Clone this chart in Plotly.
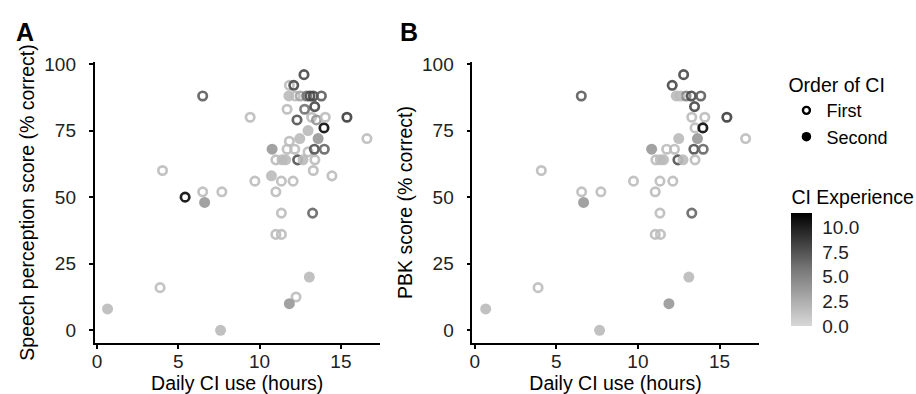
import plotly.graph_objects as go

# ---------------- Data ----------------
# Panel A: speech perception score
a_hours = [0.65, 7.6, 3.88, 4.03, 5.42, 6.5, 6.5, 6.62, 7.68, 9.42,
           9.71, 10.77, 10.73, 11.0, 11.0, 11.38, 11.6, 12.34, 12.67, 13.4,
           12.98, 11.34, 12.06, 13.3, 14.45, 11.34, 13.26, 11.0, 11.34, 13.06,
           11.83, 12.24, 11.69, 12.16, 13.37, 13.98, 11.83, 12.47, 13.6, 16.6,
           12.98, 13.96, 12.3, 13.2, 13.5, 14.04, 15.37, 11.69, 12.77, 13.39,
           11.83, 12.1, 12.73, 11.8, 12.2, 12.5, 12.9, 13.1, 13.3, 13.8]
a_score = [8, 0, 16, 60, 50, 88, 52, 48, 52, 80,
           56, 68, 58, 52, 64, 64, 64, 64, 64, 64,
           67, 56, 56, 60, 58, 44, 44, 36, 36, 20,
           10, 12.5, 68, 68, 68, 68, 71, 72, 72, 72,
           75, 76, 79, 80, 79, 80, 80, 83, 83, 84,
           92, 92, 96, 88, 88, 88, 88, 88, 88, 88]
a_order = ["Second", "Second", "First", "First", "First", "First", "First", "Second", "First", "First",
           "First", "Second", "Second", "First", "First", "Second", "Second", "First", "Second", "First",
           "First", "First", "First", "First", "First", "First", "First", "First", "First", "Second",
           "Second", "First", "First", "First", "First", "First", "First", "Second", "Second", "First",
           "Second", "First", "First", "First", "First", "First", "First", "First", "First", "First",
           "First", "First", "First", "Second", "First", "First", "First", "First", "First", "First"]
a_exp = [1.8, 1.8, 1.6, 1.6, 11.0, 7.0, 1.6, 3.8, 1.6, 1.6,
         1.6, 3.8, 1.8, 1.6, 1.6, 1.8, 1.8, 7.5, 1.8, 1.6,
         1.6, 1.6, 1.6, 1.6, 1.6, 1.6, 6.5, 1.6, 1.6, 1.8,
         3.8, 1.6, 1.6, 1.6, 7.5, 6.5, 1.6, 1.8, 3.8, 1.6,
         1.8, 11.0, 7.5, 1.6, 4.0, 1.6, 8.5, 1.6, 6.0, 8.0,
         1.6, 8.0, 8.0, 1.8, 1.6, 3.0, 6.0, 8.0, 8.0, 7.0]

# Panel B: PBK score
b_hours = [0.67, 7.65, 3.88, 4.08, 6.53, 6.55, 6.67, 7.73, 9.73, 10.84,
           11.06, 11.35, 12.14, 11.35, 11.06, 11.38, 13.3, 13.12, 11.9, 12.8,
           12.1, 12.35, 12.6, 12.95, 13.27, 13.85, 13.47, 13.3, 14.1, 15.45,
           13.5, 13.98, 12.5, 13.65, 16.6, 11.76, 12.24, 13.43, 14.0, 11.1,
           11.37, 11.57, 12.45, 12.76, 13.5]
b_score = [8, 0, 16, 60, 88, 52, 48, 52, 56, 68,
           52, 56, 56, 44, 36, 36, 44, 20, 10, 96,
           92, 88, 88, 88, 88, 88, 84, 80, 80, 80,
           76, 76, 72, 72, 72, 68, 68, 68, 68, 64,
           64, 64, 64, 64, 64]
b_order = ["Second", "Second", "First", "First", "First", "First", "Second", "First", "First", "Second",
           "First", "First", "First", "First", "First", "First", "First", "Second", "Second", "First",
           "First", "Second", "First", "First", "First", "First", "First", "First", "First", "First",
           "First", "First", "Second", "Second", "First", "First", "First", "First", "First", "First",
           "Second", "Second", "First", "Second", "First"]
b_exp = [1.8, 1.8, 1.6, 1.6, 7.0, 1.6, 3.8, 1.6, 1.6, 3.8,
         1.6, 1.6, 1.6, 1.6, 1.6, 1.6, 6.5, 1.8, 3.8, 8.0,
         8.0, 1.8, 1.6, 5.0, 8.0, 7.0, 8.0, 1.6, 1.6, 8.5,
         1.6, 11.0, 1.8, 3.8, 1.6, 1.6, 1.6, 7.5, 6.5, 1.6,
         1.8, 1.8, 7.5, 1.8, 1.6]

x_ticks = [0, 5, 10, 15]
y_ticks = [0, 25, 50, 75, 100]
cbar_ticks = [0, 2.5, 5, 7.5, 10]
cbar_text = ["0.0", "2.5", "5.0", "7.5", "10.0"]

# ---------------- Figure ----------------
W, H = 916, 394
FONT = "Liberation Sans, Arial, Helvetica, sans-serif"
TITLE_SIZE = 19.5
TICK_SIZE = 19

fig = go.Figure()


def add_panel(hours, score, order, exp, xa, ya):
    for grp, sym, lw, size in [("First", "circle-open", 2.7, 8.4), ("Second", "circle", 0, 11)]:
        xs = [h for h, o in zip(hours, order) if o == grp]
        ys = [s for s, o in zip(score, order) if o == grp]
        cs = [e for e, o in zip(exp, order) if o == grp]
        fig.add_trace(go.Scatter(
            x=xs, y=ys, mode="markers", xaxis=xa, yaxis=ya, showlegend=False,
            marker=dict(symbol=sym, size=size, color=cs, coloraxis="coloraxis",
                        line=dict(width=lw), opacity=0.9),
            hoverinfo="skip"))


add_panel(a_hours, a_score, a_order, a_exp, "x", "y")
add_panel(b_hours, b_score, b_order, b_exp, "x2", "y2")

# legend entries
fig.add_trace(go.Scatter(x=[None], y=[None], mode="markers", name="First",
                         marker=dict(symbol="circle-open", size=7, color="black", line=dict(width=2.4))))
fig.add_trace(go.Scatter(x=[None], y=[None], mode="markers", name="Second",
                         marker=dict(symbol="circle", size=9.5, color="black")))

xr = [-0.14, 17.39]
yr = [-4.8, 100.8]
ydom = [52 / H, (H - 55) / H]

axis_common = dict(showline=True, linecolor="black", linewidth=1.8, ticks="outside",
                   ticklen=4, tickwidth=1.5, tickcolor="black", showgrid=False, zeroline=False,
                   tickfont=dict(size=TICK_SIZE, color="#222"), mirror=False)

xtitle = dict(text="Daily CI use (hours)", font=dict(size=TITLE_SIZE), standoff=0)

fig.update_layout(
    width=W, height=H,
    margin=dict(l=0, r=0, t=0, b=0),
    paper_bgcolor="white", plot_bgcolor="white",
    font=dict(family=FONT, color="black"),
    xaxis=dict(domain=[92 / W, 378 / W], range=xr, tickvals=x_ticks, anchor="y",
               title=xtitle, ticklabelstandoff=-4, **axis_common),
    yaxis=dict(domain=ydom, range=yr, tickvals=y_ticks, anchor="x", ticklabelstandoff=9,
               title=dict(text="Speech perception score (% correct)", font=dict(size=TITLE_SIZE), standoff=4),
               **axis_common),
    xaxis2=dict(domain=[471 / W, 758 / W], range=xr, tickvals=x_ticks, anchor="y2",
                title=xtitle, ticklabelstandoff=-4, **axis_common),
    yaxis2=dict(domain=ydom, range=yr, tickvals=y_ticks, anchor="x2", ticklabelstandoff=9,
                title=dict(text="PBK score (% correct)", font=dict(size=TITLE_SIZE), standoff=4),
                **axis_common),
    coloraxis=dict(
        cmin=0, cmax=11.4,
        colorscale=[[0, "#D8D8D8"], [0.5, "#787878"], [1, "#000000"]],
        colorbar=dict(
            x=791 / W, xanchor="left", xpad=0,
            y=(H - 325) / H, yanchor="bottom", ypad=0,
            len=(325 - 182) / H, lenmode="fraction", thickness=21, outlinewidth=0,
            tickvals=cbar_ticks, ticktext=cbar_text, ticks="outside", ticklen=7,
            tickcolor="rgba(255,255,255,0)", tickwidth=1,
            tickfont=dict(size=TICK_SIZE, color="#222"),
            title=dict(text="CI Experience", side="top", font=dict(size=TITLE_SIZE)),
        ),
    ),
    legend=dict(
        x=786 / W, xanchor="left", y=1 - 60 / H, yanchor="top",
        title=dict(text="Order of CI", font=dict(size=TITLE_SIZE)),
        font=dict(size=18), itemwidth=30, tracegroupgap=0,
        bgcolor="rgba(0,0,0,0)",
    ),
    annotations=[
        dict(text="<b>A</b>", x=11 / W, y=1 - 25 / H, xref="paper", yref="paper",
             xanchor="left", yanchor="middle", showarrow=False, font=dict(size=25)),
        dict(text="<b>B</b>", x=396 / W, y=1 - 25 / H, xref="paper", yref="paper",
             xanchor="left", yanchor="middle", showarrow=False, font=dict(size=25)),
    ],
)

fig.write_html("out.html")
